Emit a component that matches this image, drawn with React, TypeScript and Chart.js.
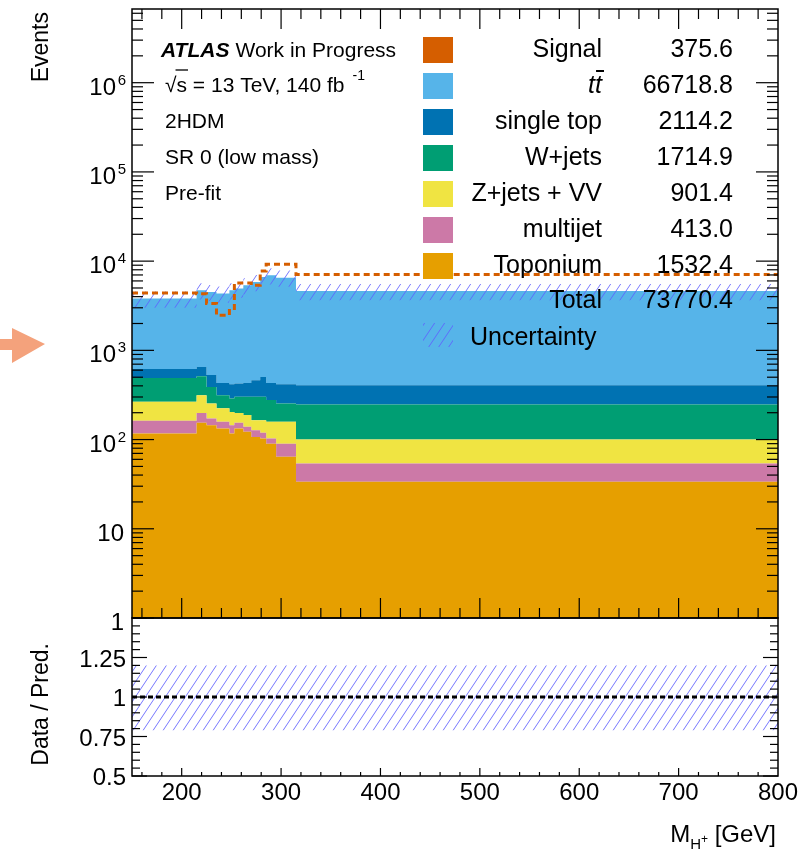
import React, { useEffect, useRef } from "react";
import { Chart, registerables } from "chart.js";

Chart.register(...registerables);

// ---------------- data ----------------
const binEdges = [150, 215, 225, 235, 248, 253, 262, 270, 279, 285, 295, 315, 800];
const toponium = [117, 154, 145, 133, 117, 133, 122, 107, 103, 90, 64, 33.6];
const multijet = [45, 45, 27, 25, 28, 21, 17, 20, 16, 13, 26, 20.4];
const zjetsVV = [103, 115, 81, 66, 59, 45, 49, 38, 46, 55, 68, 46];
const wjets = [225, 199, 136, 90, 85, 102, 113, 136, 136, 119, 95, 147];
const singleTop = [127, 139, 139, 117, 129, 124, 130, 162, 202, 154, 165, 159];
const ttbar = [3183, 4058, 3982, 3899, 4292, 4495, 4929, 5367, 6137, 6499, 6112, 4219];
const signal = [4400, 4300, 3340, 2470, 2940, 5690, 5690, 5360, 7740, 9210, 9210, 7060];
const ratioUp = [1.2, 1.2, 1.2, 1.2, 1.2, 1.2, 1.2, 1.2, 1.2, 1.2, 1.2, 1.2];
const ratioDown = [0.79, 0.79, 0.79, 0.79, 0.79, 0.79, 0.79, 0.79, 0.79, 0.79, 0.79, 0.79];
const ratioNominal = 1;

const legendNames = ["Signal", "tt\u0304", "single top", "W+jets", "Z+jets + VV", "multijet", "Toponium"];
const legendYields = ["375.6", "66718.8", "2114.2", "1714.9", "901.4", "413.0", "1532.4"];
const legendColors = ["#d55e00", "#56b4e9", "#0072b2", "#009e73", "#f0e442", "#cc79a7", "#e69f00"];
const totalLabel = "Total";
const totalYield = "73770.4";
const uncertaintyLabel = "Uncertainty";

const xTickLabels = [200, 300, 400, 500, 600, 700, 800];
const yTickLabelsMain = [1, 10, 100, 1000, 10000, 100000, 1000000];
const yTickLabelsRatio = [0.5, 0.75, 1, 1.25];
const infoLines = ["2HDM", "SR 0 (low mass)", "Pre-fit"];

// ---------------- helpers ----------------
const W = 812;
const H = 852;
const FONT = '"Liberation Sans", Arial, Helvetica, sans-serif';

function stepPoints(vals: number[]) {
  const pts = vals.map((v, i) => ({ x: binEdges[i], y: v }));
  pts.push({ x: binEdges[binEdges.length - 1], y: vals[vals.length - 1] });
  return pts;
}

function makeHatch(): CanvasPattern | string {
  const c = document.createElement("canvas");
  const w = 10;
  const h = 15;
  c.width = w;
  c.height = h;
  const g = c.getContext("2d");
  if (!g) return "rgba(90,90,255,0.3)";
  g.strokeStyle = "rgba(95,95,255,0.85)";
  g.lineWidth = 1;
  for (let k = -1; k <= 1; k++) {
    g.beginPath();
    g.moveTo(k * w - w, 2 * h);
    g.lineTo(k * w + 2 * w, -h);
    g.stroke();
  }
  const p = g.createPattern(c, "repeat");
  return p || "rgba(90,90,255,0.3)";
}

function seg(ctx: CanvasRenderingContext2D, x1: number, y1: number, x2: number, y2: number) {
  ctx.beginPath();
  ctx.moveTo(x1, y1);
  ctx.lineTo(x2, y2);
  ctx.stroke();
}

function drawArrow(ctx: CanvasRenderingContext2D) {
  ctx.save();
  ctx.fillStyle = "#f4a27c";
  ctx.beginPath();
  ctx.moveTo(0, 339);
  ctx.lineTo(12, 339);
  ctx.lineTo(12, 328);
  ctx.lineTo(45, 344);
  ctx.lineTo(12, 363);
  ctx.lineTo(12, 350);
  ctx.lineTo(0, 350);
  ctx.closePath();
  ctx.fill();
  ctx.restore();
}

const mainDecor = {
  id: "mainDecor",
  afterDraw(chart: any, _args: any, opts: any) {
    const ctx: CanvasRenderingContext2D = chart.ctx;
    const { left, right, top, bottom } = chart.chartArea;
    const xs = chart.scales.x;
    const ys = chart.scales.y;
    ctx.save();
    ctx.strokeStyle = "#000";
    ctx.fillStyle = "#000";
    ctx.lineWidth = 1.2;
    // x ticks
    for (let v = 160; v < 800; v += 20) {
      const px = xs.getPixelForValue(v);
      const L = v % 100 === 0 ? 20 : 10;
      seg(ctx, px, bottom, px, bottom - L);
      seg(ctx, px, top, px, top + L);
    }
    // y ticks (log)
    for (let e = 0; e < 8; e++) {
      for (let m = 1; m < 10; m++) {
        const v = m * Math.pow(10, e);
        if (v > ys.max) break;
        const py = ys.getPixelForValue(v);
        const L = m === 1 ? 22 : 11;
        seg(ctx, left, py, left + L, py);
        seg(ctx, right, py, right - L, py);
      }
    }
    // frame
    ctx.lineWidth = 1.5;
    ctx.strokeRect(left, top, right - left, bottom - top);

    // y labels
    yTickLabelsMain.forEach((v) => {
      const py = ys.getPixelForValue(v);
      const e = Math.round(Math.log10(v));
      if (e <= 1) {
        ctx.font = `24px ${FONT}`;
        ctx.textAlign = "right";
        ctx.textBaseline = "alphabetic";
        ctx.fillText(String(v), 124, py + 12);
      } else {
        ctx.font = `15px ${FONT}`;
        ctx.textAlign = "right";
        ctx.fillText(String(e), 126, py + 2);
        ctx.font = `24px ${FONT}`;
        ctx.fillText("10", 116, py + 12);
      }
    });

    // y title
    ctx.save();
    ctx.translate(48, 12);
    ctx.rotate(-Math.PI / 2);
    ctx.font = `23px ${FONT}`;
    ctx.textAlign = "right";
    ctx.fillText("Events", 0, 0);
    ctx.restore();

    // ATLAS label
    ctx.textAlign = "left";
    ctx.font = `italic bold 21px ${FONT}`;
    ctx.fillText("ATLAS", 161, 57);
    const aw = ctx.measureText("ATLAS").width;
    ctx.font = `21px ${FONT}`;
    ctx.fillText("Work in Progress", 161 + aw + 6, 57);

    // sqrt(s) line
    ctx.font = `21px ${FONT}`;
    const sx = 165;
    const rootW = ctx.measureText("\u221A").width;
    const sW = ctx.measureText("s").width;
    const energyText = "\u221As = 13 TeV, 140 fb";
    ctx.fillText(energyText, sx, 92);
    ctx.lineWidth = 1.3;
    seg(ctx, sx + rootW - 1, 70, sx + rootW + sW + 1, 70);
    const ew = ctx.measureText(energyText).width;
    ctx.font = `14px ${FONT}`;
    ctx.fillText("-1", sx + ew + 8, 80);

    ctx.font = `21px ${FONT}`;
    infoLines.forEach((t, i) => ctx.fillText(t, 165, 128 + i * 35.8));

    // legend
    const hatch = opts.hatch;
    legendNames.forEach((name, i) => {
      const yb = 57 + i * 36;
      ctx.fillStyle = legendColors[i];
      ctx.fillRect(423, yb - 20, 30, 26);
      ctx.fillStyle = "#000";
      ctx.textAlign = "right";
      if (name.indexOf("\u0304") >= 0) {
        const plain = name.replace("\u0304", "");
        ctx.font = `italic 25px ${FONT}`;
        ctx.fillText(plain, 602, yb);
        const lw = ctx.measureText(plain.slice(-1)).width;
        ctx.lineWidth = 2;
        seg(ctx, 602 - lw + 1, yb - 22, 602 + 2, yb - 22);
      } else {
        ctx.font = `25px ${FONT}`;
        ctx.fillText(name, 602, yb);
      }
      ctx.font = `25px ${FONT}`;
      ctx.fillText(legendYields[i], 733, yb);
    });
    ctx.font = `25px ${FONT}`;
    ctx.textAlign = "right";
    ctx.fillText(totalLabel, 602, 308);
    ctx.fillText(totalYield, 733, 308);
    ctx.fillStyle = hatch;
    ctx.fillRect(423, 323, 30, 24);
    ctx.fillStyle = "#000";
    ctx.textAlign = "left";
    ctx.fillText(uncertaintyLabel, 470, 345);

    drawArrow(ctx);
    ctx.restore();
  },
};

const ratioDecor = {
  id: "ratioDecor",
  afterDraw(chart: any) {
    const ctx: CanvasRenderingContext2D = chart.ctx;
    const { left, right, top, bottom } = chart.chartArea;
    const xs = chart.scales.x;
    const ys = chart.scales.y;
    ctx.save();
    ctx.strokeStyle = "#000";
    ctx.fillStyle = "#000";
    ctx.lineWidth = 1.2;
    for (let v = 160; v < 800; v += 20) {
      const px = xs.getPixelForValue(v);
      const L = v % 100 === 0 ? 8 : 4;
      seg(ctx, px, bottom, px, bottom - L);
    }
    for (let k = 0; k <= 20; k++) {
      const v = 0.5 + k * 0.05;
      const py = ys.getPixelForValue(v);
      const L = k % 5 === 0 ? 15 : 8;
      seg(ctx, left, py, left + L, py);
      seg(ctx, right, py, right - L, py);
    }
    ctx.lineWidth = 1.5;
    ctx.strokeRect(left, top, right - left, bottom - top);

    ctx.font = `24px ${FONT}`;
    ctx.textAlign = "right";
    yTickLabelsRatio.forEach((v) => {
      const py = ys.getPixelForValue(v);
      ctx.fillText(String(v), 126, py + 9);
    });
    ctx.textAlign = "center";
    xTickLabels.forEach((v) => {
      const px = xs.getPixelForValue(v);
      ctx.fillText(String(v), px, 800);
    });

    // y title
    ctx.save();
    ctx.translate(48, 643);
    ctx.rotate(-Math.PI / 2);
    ctx.font = `23px ${FONT}`;
    ctx.textAlign = "right";
    ctx.fillText("Data / Pred.", 0, 0);
    ctx.restore();

    // x title: M_{H+} [GeV]
    ctx.textAlign = "left";
    ctx.font = `24px ${FONT}`;
    const tail = " [GeV]";
    const tailW = ctx.measureText(tail).width;
    const mW = ctx.measureText("M").width;
    ctx.font = `15px ${FONT}`;
    const hW = ctx.measureText("H").width;
    ctx.font = `12px ${FONT}`;
    const pW = ctx.measureText("+").width;
    const xEnd = 776;
    let cx = xEnd - tailW - pW - hW - mW;
    ctx.font = `24px ${FONT}`;
    ctx.fillText("M", cx, 842);
    cx += mW;
    ctx.font = `15px ${FONT}`;
    ctx.fillText("H", cx, 849);
    cx += hW;
    ctx.font = `12px ${FONT}`;
    ctx.fillText("+", cx, 843);
    cx += pW;
    ctx.font = `24px ${FONT}`;
    ctx.fillText(tail, cx, 842);
    ctx.restore();
  },
};

const noBorder = "rgba(0,0,0,0)";

export default function App() {
  const mainRef = useRef<HTMLCanvasElement>(null);
  const ratioRef = useRef<HTMLCanvasElement>(null);

  useEffect(() => {
    if (!mainRef.current || !ratioRef.current) return;
    const hatch = makeHatch();

    const comps = [toponium, multijet, zjetsVV, wjets, singleTop, ttbar];
    const compColors = ["#e69f00", "#cc79a7", "#f0e442", "#009e73", "#0072b2", "#56b4e9"];
    let cum = new Array(toponium.length).fill(0);
    const stackSets = comps.map((c, k) => {
      cum = cum.map((s: number, i: number) => s + c[i]);
      return {
        data: stepPoints(cum),
        fill: k === 0 ? "start" : "-1",
        backgroundColor: compColors[k],
        borderColor: noBorder,
        borderWidth: 1,
        pointRadius: 0,
        stepped: true,
      };
    });
    const total = cum.slice();
    const bandUp = total.map((t: number, i: number) => t * ratioUp[i]);
    const bandDown = total.map((t: number, i: number) => t * ratioDown[i]);

    const main = new Chart(mainRef.current, {
      type: "line",
      data: {
        datasets: [
          {
            data: stepPoints(signal),
            borderColor: "#d55e00",
            borderWidth: 3,
            borderDash: [6, 4],
            fill: false,
            pointRadius: 0,
            stepped: true,
          },
          {
            data: stepPoints(bandUp),
            fill: "+1",
            backgroundColor: hatch,
            borderColor: noBorder,
            borderWidth: 1,
            pointRadius: 0,
            stepped: true,
          },
          {
            data: stepPoints(bandDown),
            fill: false,
            borderColor: noBorder,
            borderWidth: 1,
            pointRadius: 0,
            stepped: true,
          },
          ...stackSets,
        ] as any,
      },
      options: {
        responsive: false,
        maintainAspectRatio: false,
        animation: false,
        events: [],
        layout: { padding: { left: 132, right: 34, top: 9, bottom: H - 618 } },
        plugins: {
          legend: { display: false },
          tooltip: { enabled: false },
          mainDecor: { hatch },
        } as any,
        scales: {
          x: { type: "linear", min: binEdges[0], max: binEdges[binEdges.length - 1], display: false },
          y: { type: "logarithmic", min: 1, max: 6.7e6, display: false },
        },
      },
      plugins: [mainDecor],
    });

    const ratio = new Chart(ratioRef.current, {
      type: "line",
      data: {
        datasets: [
          {
            data: [
              { x: binEdges[0], y: ratioNominal },
              { x: binEdges[binEdges.length - 1], y: ratioNominal },
            ],
            borderColor: "#000",
            borderWidth: 3,
            borderDash: [5, 3],
            fill: false,
            pointRadius: 0,
          },
          {
            data: stepPoints(ratioUp),
            fill: "+1",
            backgroundColor: hatch,
            borderColor: noBorder,
            borderWidth: 1,
            pointRadius: 0,
            stepped: true,
          },
          {
            data: stepPoints(ratioDown),
            fill: false,
            borderColor: noBorder,
            borderWidth: 1,
            pointRadius: 0,
            stepped: true,
          },
        ] as any,
      },
      options: {
        responsive: false,
        maintainAspectRatio: false,
        animation: false,
        events: [],
        layout: { padding: { left: 132, right: 34, top: 618, bottom: H - 776 } },
        plugins: { legend: { display: false }, tooltip: { enabled: false } },
        scales: {
          x: { type: "linear", min: binEdges[0], max: binEdges[binEdges.length - 1], display: false },
          y: { type: "linear", min: 0.5, max: 1.5, display: false },
        },
      },
      plugins: [ratioDecor],
    });

    return () => {
      main.destroy();
      ratio.destroy();
    };
  }, []);

  return (
    <div style={{ position: "fixed", left: 0, top: 0, width: W, height: H, background: "#fff" }}>
      <canvas ref={mainRef} width={W} height={H} style={{ position: "absolute", left: 0, top: 0 }} />
      <canvas ref={ratioRef} width={W} height={H} style={{ position: "absolute", left: 0, top: 0 }} />
    </div>
  );
}
